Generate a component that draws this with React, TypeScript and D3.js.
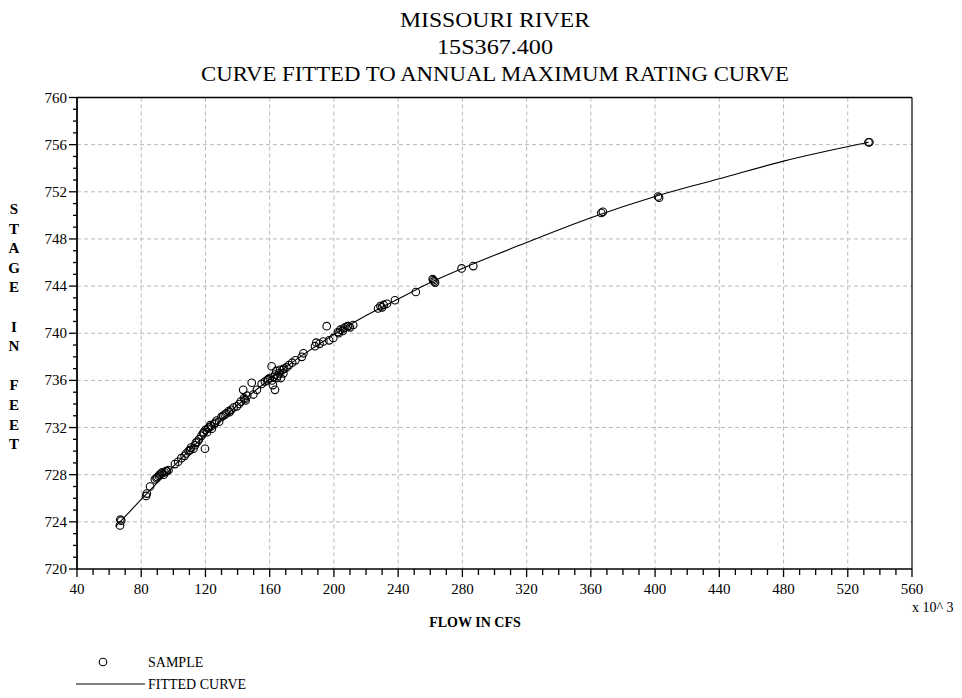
import React from "react";
import * as d3 from "d3";

// Annual maximum observations (flow in thousands of cfs, stage in feet)
const sampleFlow = [
  66.8, 67.5, 67.0, 83.0, 83.5, 85.5, 88.5, 90.0, 91.0, 92.5, 93.0, 94.0, 95.5, 97.0,
  89.5, 91.5, 94.5, 96.0,
  101.0, 103.0, 105.0, 107.0, 108.0, 109.5, 110.5, 111.0, 112.5, 113.5, 115.0, 116.0,
  117.5, 119.7, 118.5, 120.0, 121.0, 122.0, 123.0, 124.0, 125.5, 127.0, 128.5, 130.0,
  114.0, 119.0, 121.5, 123.5, 126.0, 132.0, 135.0, 144.5,
  131.0, 133.0, 134.5, 136.0, 137.5, 139.5, 141.0, 142.0, 143.5, 144.0, 145.0, 146.0,
  148.8, 149.8, 152.0, 155.0, 157.0, 158.5, 160.0, 161.2, 161.5, 162.0, 163.3, 163.5,
  164.0, 165.0, 166.0, 167.0, 168.0, 169.0, 170.5, 172.0, 174.0, 176.0, 181.0, 180.0,
  159.0, 162.5, 164.5, 166.5, 168.5,
  188.2, 189.0, 191.0, 193.4, 195.5, 197.0, 199.6, 202.5, 204.0, 205.5, 207.0, 208.5,
  210.0, 212.0, 203.0, 206.0, 209.0,
  227.5, 229.0, 230.0, 231.0, 233.0, 238.0, 251.0, 261.9, 263.0, 262.5, 261.5, 279.5,
  286.8, 366.5, 367.5, 401.8, 402.5, 532.9, 533.5,
];
const sampleStage = [
  723.7, 724.1, 724.2, 726.2, 726.4, 727.0, 727.6, 727.8, 727.9, 728.1, 728.2, 728.0, 728.3, 728.4,
  727.7, 728.0, 728.2, 728.3,
  728.9, 729.1, 729.4, 729.6, 729.8, 730.0, 730.1, 730.3, 730.2, 730.5, 730.8, 731.0,
  731.3, 730.2, 731.5, 731.8, 731.6, 732.0, 732.2, 731.9, 732.3, 732.6, 732.5, 732.9,
  730.7, 731.6, 731.9, 732.1, 732.4, 733.1, 733.3, 734.4,
  733.0, 733.2, 733.4, 733.5, 733.7, 733.8, 734.0, 734.2, 735.2, 734.5, 734.3, 734.7,
  735.8, 734.8, 735.2, 735.7, 735.9, 736.0, 736.2, 737.2, 736.0, 735.6, 735.2, 736.5,
  736.8, 736.4, 736.6, 736.2, 736.9, 737.0, 737.1, 737.3, 737.5, 737.7, 738.3, 738.0,
  736.1, 736.3, 736.2, 736.9, 736.6,
  738.9, 739.2, 739.1, 739.3, 740.6, 739.4, 739.6, 740.1, 740.3, 740.2, 740.5, 740.6,
  740.5, 740.7, 740.0, 740.4, 740.6,
  742.1, 742.3, 742.2, 742.4, 742.5, 742.8, 743.5, 744.5, 744.3, 744.4, 744.6, 745.5,
  745.7, 750.2, 750.3, 751.6, 751.5, 756.2, 756.2,
];

// Fitted rating curve
const curveFlow = [64, 80, 100, 120, 140, 160, 180, 200, 220, 240, 260, 280, 320, 360, 400, 440, 480, 533];
const curveStage = [
  723.6, 725.9, 728.7, 731.4, 733.9, 736.1, 738.1, 739.9, 741.5, 742.9, 744.3, 745.5,
  747.7, 749.8, 751.6, 753.1, 754.6, 756.2,
];

const xTicks = [40, 80, 120, 160, 200, 240, 280, 320, 360, 400, 440, 480, 520, 560];
const yTicks = [720, 724, 728, 732, 736, 740, 744, 748, 752, 756, 760];
const titleLines = ["MISSOURI RIVER", "15S367.400", "CURVE FITTED TO ANNUAL MAXIMUM RATING CURVE"];
const titleWidths = [190, 116, 588];
const yLabelWords = ["STAGE", "IN", "FEET"];

const W = 962;
const H = 698;
const left = 77;
const right = 912;
const top = 97.5;
const bottom = 569;
const FONT = "'Liberation Serif', 'Times New Roman', Times, serif";
const serif = { fontFamily: FONT };

export default function App() {
  const x = d3.scaleLinear().domain([40, 560]).range([left, right]);
  const y = d3.scaleLinear().domain([720, 760]).range([bottom, top]);

  const xMinor = d3.range(40, 561, 10).filter((v) => v % 40 !== 0);
  const yMinor = d3.range(720, 761, 1).filter((v) => v % 4 !== 0);

  const curvePts: [number, number][] = curveFlow.map((f, i) => [f, curveStage[i]]);
  const line = d3
    .line<[number, number]>()
    .x((d) => x(d[0]))
    .y((d) => y(d[1]))
    .curve(d3.curveMonotoneX);

  // vertical stacked axis title letters
  const letters: { ch: string; idx: number }[] = [];
  let idx = 0;
  yLabelWords.forEach((w, wi) => {
    w.split("").forEach((ch) => {
      letters.push({ ch, idx });
      idx += 1;
    });
    if (wi < yLabelWords.length - 1) idx += 1;
  });
  const letterStep = 19.6;
  const letterStart = 214;

  return (
    <svg
      width={W}
      height={H}
      viewBox={`0 0 ${W} ${H}`}
      style={{ position: "absolute", left: 0, top: 0, background: "#fff" }}
    >
      <rect x={0} y={0} width={W} height={H} fill="#fff" />

      {/* titles */}
      {titleLines.map((t, i) => (
        <text
          key={t}
          x={495}
          y={27 + i * 27}
          textAnchor="middle"
          fontSize={20}
          fill="#000"
          style={serif}
          textLength={titleWidths[i]}
          lengthAdjust="spacingAndGlyphs"
        >
          {t}
        </text>
      ))}

      {/* grid */}
      <g stroke="#b8b8b8" strokeWidth={1} strokeDasharray="4,3">
        {xTicks
          .filter((v) => v > 40 && v < 560)
          .map((v) => (
            <line key={`gx${v}`} x1={x(v)} x2={x(v)} y1={top} y2={bottom} />
          ))}
        {yTicks
          .filter((v) => v > 720 && v < 760)
          .map((v) => (
            <line key={`gy${v}`} x1={left} x2={right} y1={y(v)} y2={y(v)} />
          ))}
      </g>

      {/* frame */}
      <line x1={left} x2={right} y1={top} y2={top} stroke="#000" strokeWidth={1.5} />
      <line x1={right} x2={right} y1={top} y2={bottom} stroke="#000" strokeWidth={1.2} />
      <line x1={left} x2={right} y1={bottom} y2={bottom} stroke="#000" strokeWidth={1.5} />
      <line x1={left} x2={left} y1={top} y2={bottom} stroke="#000" strokeWidth={1.8} />

      {/* y ticks */}
      <g stroke="#000" strokeWidth={1.3}>
        {yTicks.map((v) => (
          <line key={`yt${v}`} x1={left - 8} x2={left} y1={y(v)} y2={y(v)} />
        ))}
        {yMinor.map((v) => (
          <line key={`ym${v}`} x1={left - 4} x2={left} y1={y(v)} y2={y(v)} />
        ))}
      </g>
      {yTicks.map((v) => (
        <text key={`yl${v}`} x={left - 10} y={y(v) + 5} textAnchor="end" fontSize={15} fill="#000" style={serif}>
          {v}
        </text>
      ))}

      {/* x ticks */}
      <g stroke="#000" strokeWidth={1.3}>
        {xTicks.map((v) => (
          <line key={`xt${v}`} x1={x(v)} x2={x(v)} y1={bottom} y2={bottom + 8} />
        ))}
        {xMinor.map((v) => (
          <line key={`xm${v}`} x1={x(v)} x2={x(v)} y1={bottom} y2={bottom + 6} />
        ))}
      </g>
      {xTicks.map((v) => (
        <text key={`xl${v}`} x={x(v)} y={bottom + 25} textAnchor="middle" fontSize={15} fill="#000" style={serif}>
          {v}
        </text>
      ))}
      <text x={912} y={612} fontSize={14} fill="#000" style={serif}>
        x 10^ 3
      </text>

      {/* axis titles */}
      <text x={475} y={627} textAnchor="middle" fontSize={14} fontWeight="bold" fill="#000" style={serif}>
        FLOW IN CFS
      </text>
      {letters.map((l, i) => (
        <text
          key={`yc${i}`}
          x={14}
          y={letterStart + l.idx * letterStep}
          textAnchor="middle"
          fontSize={15}
          fontWeight="bold"
          fill="#000"
          style={serif}
        >
          {l.ch}
        </text>
      ))}

      {/* fitted curve */}
      <path d={line(curvePts) ?? ""} fill="none" stroke="#000" strokeWidth={1.1} />

      {/* samples */}
      <g fill="none" stroke="#000" strokeWidth={1.1}>
        {sampleFlow.map((f, i) => (
          <circle key={`s${i}`} cx={x(f)} cy={y(sampleStage[i])} r={3.8} />
        ))}
      </g>

      {/* legend */}
      <circle cx={103} cy={662} r={3.8} fill="none" stroke="#000" strokeWidth={1.1} />
      <text x={148} y={667} fontSize={14} fill="#000" style={serif}>
        SAMPLE
      </text>
      <line x1={76} x2={145} y1={684} y2={684} stroke="#000" strokeWidth={1.1} />
      <text x={148} y={689} fontSize={14} fill="#000" style={serif}>
        FITTED CURVE
      </text>
    </svg>
  );
}
